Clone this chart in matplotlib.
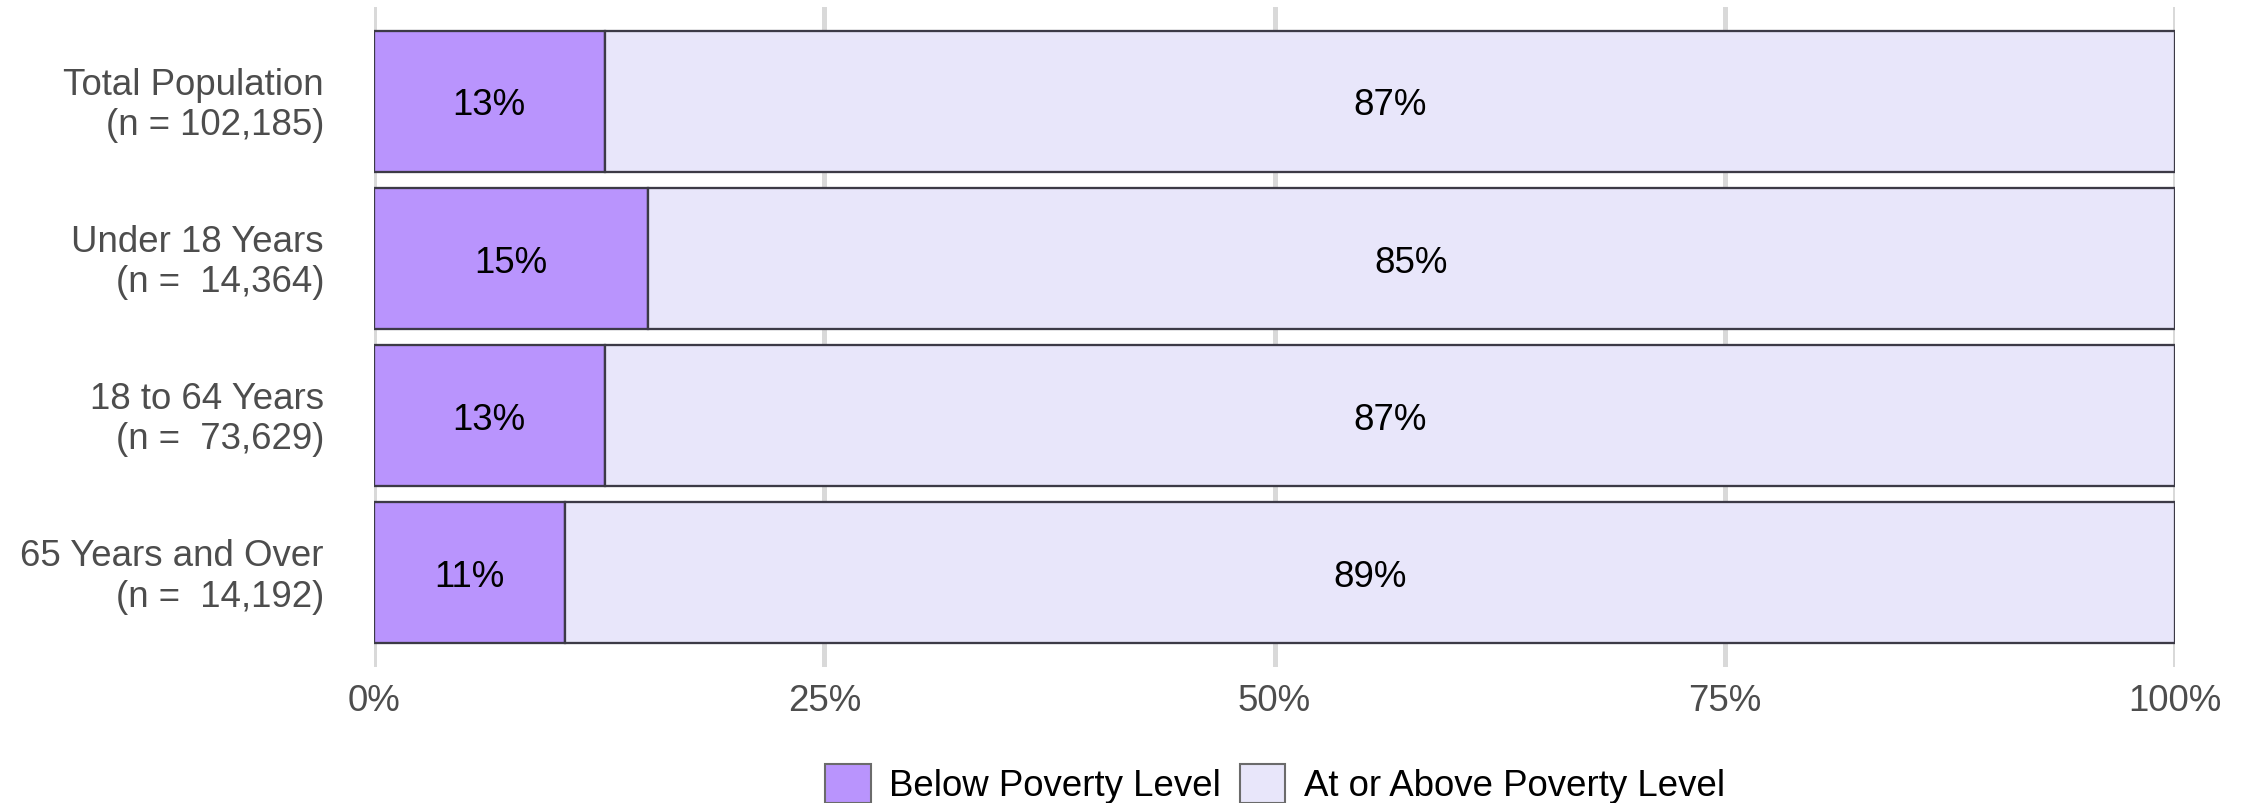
import matplotlib
matplotlib.use("Agg")
import matplotlib.pyplot as plt
from matplotlib.ticker import FixedLocator, FuncFormatter
from matplotlib.transforms import offset_copy, ScaledTranslation

plt.rcParams['font.family'] = ['Liberation Sans', 'DejaVu Sans']

# Data
groups = ["Total Population", "Under 18 Years", "18 to 64 Years", "65 Years and Over"]
sample_sizes = ["102,185", " 14,364", " 73,629", " 14,192"]
below_pct = [12.8, 15.2, 12.8, 10.6]
above_pct = [87.2, 84.8, 87.2, 89.4]
series_names = ["Below Poverty Level", "At or Above Poverty Level"]
x_ticks = [0, 25, 50, 75, 100]

below_color = "#B994FD"
above_color = "#E8E6FA"
edge_color = "#3c3a46"
grid_color = "#d9d9d9"
text_gray = "#4d4d4d"

W, H, DPI = 2249, 803, 300
fig = plt.figure(figsize=(W / DPI, H / DPI), dpi=DPI)
left, right, top, bottom = 374, 2175, 7, 667
ax = fig.add_axes([left / W, 1 - bottom / H, (right - left) / W, (bottom - top) / H])

ypos = list(range(len(groups)))
ax.barh(ypos, below_pct, height=0.9, color=below_color, edgecolor=edge_color,
        linewidth=0.55, label=series_names[0], zorder=3)
ax.barh(ypos, above_pct, left=below_pct, height=0.9, color=above_color,
        edgecolor=edge_color, linewidth=0.55, label=series_names[1], zorder=3)

# value labels, nudged a touch below the geometric centre
label_tr = offset_copy(ax.transData, fig=fig, x=0, y=-1.1, units="points")
for y, b, a in zip(ypos, below_pct, above_pct):
    ax.text(b / 2, y, f"{round(b)}%", ha="center", va="center",
            fontsize=8.8, color="black", zorder=4, transform=label_tr)
    ax.text(b + a / 2, y, f"{round(a)}%", ha="center", va="center",
            fontsize=8.8, color="black", zorder=4, transform=label_tr)

ax.set_xlim(0, 100)
ax.set_ylim(len(groups) - 0.4, -0.6)
ax.xaxis.set_major_locator(FixedLocator(x_ticks))
ax.xaxis.set_major_formatter(FuncFormatter(lambda v, p: f"{v:.0f}%"))
ax.set_yticks(ypos)
ax.set_yticklabels([f"{g}\n(n = {n})" for g, n in zip(groups, sample_sizes)],
                   linespacing=1.2)
ax.tick_params(axis="x", length=0, pad=4, labelsize=8.8, labelcolor=text_gray)
ax.tick_params(axis="y", length=0, pad=12, labelsize=8.8, labelcolor=text_gray)
lift = ScaledTranslation(0, 0.6 / 72, fig.dpi_scale_trans)
for lbl in ax.get_yticklabels():
    lbl.set_horizontalalignment("right")
    lbl.set_transform(lbl.get_transform() + lift)

ax.grid(axis="x", color=grid_color, linewidth=1.2, zorder=0)
ax.grid(axis="y", visible=False)
for s in ax.spines.values():
    s.set_visible(False)

handles, labels = ax.get_legend_handles_labels()
leg = fig.legend(handles, labels, loc="center", ncol=2, frameon=False,
                 bbox_to_anchor=(((823 + 1727) / 2) / W, 1 - 784 / H),
                 fontsize=8.8, handlelength=1.25, handleheight=1.25,
                 handletextpad=0.5, columnspacing=0.5, borderpad=0,
                 borderaxespad=0)
for p in leg.get_patches():
    p.set_edgecolor("#6b6b6b")
    p.set_linewidth(0.5)

fig.savefig("out.png", dpi=DPI)
